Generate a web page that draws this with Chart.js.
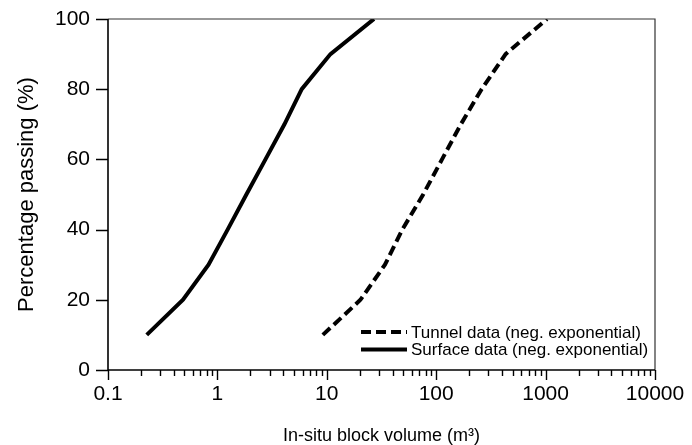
<!DOCTYPE html>
<html>
<head>
<meta charset="utf-8">
<script src="https://cdn.jsdelivr.net/npm/chart.js@4.4.1/dist/chart.umd.min.js"></script>
<style>
html,body{margin:0;padding:0;background:#fff;}
#wrap{position:relative;width:692px;height:445px;}
</style>
</head>
<body>
<div id="wrap"><canvas id="c" width="692" height="445"></canvas></div>
<script>
// ---- data ----
const percentPassing = [10, 20, 30, 40, 50, 60, 70, 80, 90, 100];
const tunnelVolume  = [9.2, 20.3, 34, 49, 76, 113, 168, 260, 431, 1030];
const surfaceVolume = [0.226, 0.485, 0.83, 1.24, 1.84, 2.75, 4.1, 5.9, 10.8, 27];
const seriesNames = ['Tunnel data (neg. exponential)', 'Surface data (neg. exponential)'];
const xTickValues = [0.1, 1, 10, 100, 1000, 10000];
const xTickLabels = ['0.1', '1', '10', '100', '1000', '10000'];
const yTickValues = [0, 20, 40, 60, 80, 100];
const yTickLabels = ['0', '20', '40', '60', '80', '100'];
const xTitle = 'In-situ block volume (m\u00B3)';
const yTitle = 'Percentage passing (%)';

const FONT = 'Liberation Sans, Arial, sans-serif';
const pts = (xs) => xs.map((x, i) => ({x: x, y: percentPassing[i]}));

const frameAndTicks = {
  id: 'frameAndTicks',
  afterDraw(chart) {
    const ctx = chart.ctx, a = chart.chartArea;
    const xs = chart.scales.x, ys = chart.scales.y;
    ctx.save();
    ctx.strokeStyle = '#333';
    ctx.lineWidth = 1.2;
    ctx.beginPath();
    ctx.moveTo(a.left, a.top); ctx.lineTo(a.right, a.top); ctx.lineTo(a.right, a.bottom);
    ctx.stroke();
    ctx.strokeStyle = '#000';
    ctx.lineWidth = 1.6;
    ctx.beginPath();
    ctx.moveTo(a.left, a.top); ctx.lineTo(a.left, a.bottom); ctx.lineTo(a.right, a.bottom);
    ctx.stroke();
    ctx.lineWidth = 1.4;
    ctx.beginPath();
    xs.ticks.forEach(t => {
      const px = Math.round(xs.getPixelForValue(t.value)) + 0.5;
      const e = Math.log10(t.value);
      const major = Math.abs(e - Math.round(e)) < 1e-6;
      ctx.moveTo(px, a.bottom);
      ctx.lineTo(px, a.bottom + (major ? 10 : 6));
    });
    ys.ticks.forEach(t => {
      const py = Math.round(ys.getPixelForValue(t.value)) + 0.5;
      ctx.moveTo(a.left - 12, py);
      ctx.lineTo(a.left, py);
    });
    ctx.stroke();
    const items = [
      {label: chart.data.datasets[0].label, dash: chart.data.datasets[0].borderDash, y: 332},
      {label: chart.data.datasets[1].label, dash: [], y: 349.5}
    ];
    ctx.font = '17px ' + FONT;
    ctx.fillStyle = '#000';
    ctx.textBaseline = 'middle';
    ctx.textAlign = 'left';
    items.forEach(it => {
      ctx.beginPath();
      ctx.lineWidth = 4;
      ctx.setLineDash(it.dash);
      ctx.moveTo(361, it.y); ctx.lineTo(407, it.y);
      ctx.stroke();
      ctx.setLineDash([]);
      ctx.fillText(it.label, 411, it.y + 1);
    });
    ctx.restore();
  }
};

new Chart(document.getElementById('c'), {
  type: 'line',
  data: {
    datasets: [
      {label: seriesNames[0], data: pts(tunnelVolume), borderColor: '#000', borderWidth: 4,
       borderDash: [10, 5], borderCapStyle: 'butt', pointRadius: 0, fill: false, tension: 0},
      {label: seriesNames[1], data: pts(surfaceVolume), borderColor: '#000', borderWidth: 4,
       borderCapStyle: 'butt', pointRadius: 0, fill: false, tension: 0}
    ]
  },
  options: {
    responsive: false,
    animation: false,
    devicePixelRatio: 1,
    layout: {padding: {left: 0, right: 37, top: 19, bottom: 0}},
    plugins: {legend: {display: false}, tooltip: {enabled: false}},
    scales: {
      x: {
        type: 'logarithmic', min: 0.1, max: 10000,
        afterBuildTicks(scale) {
          const t = [];
          for (let e = -1; e < 4; e++) for (let m = 1; m <= 9; m++) t.push({value: +(m * Math.pow(10, e)).toPrecision(6)});
          t.push({value: 10000});
          scale.ticks = t;
        },
        afterFit(scale) { scale.height = 75; scale.paddingLeft = 0; scale.paddingRight = 0; },
        grid: {display: false, drawTicks: false, tickLength: 0},
        border: {display: false},
        ticks: {
          autoSkip: false, maxRotation: 0, color: '#000', padding: 12,
          font: {family: FONT, size: 21},
          callback(v) {
            const i = xTickValues.findIndex(tv => Math.abs(tv - v) / tv < 1e-6);
            return i >= 0 ? xTickLabels[i] : '';
          }
        },
        title: {display: true, text: xTitle, color: '#000', font: {family: FONT, size: 18, lineHeight: 1}, padding: {top: 0, bottom: 0}}
      },
      y: {
        min: 0, max: 100,
        afterBuildTicks(scale) { scale.ticks = yTickValues.map(v => ({value: v})); },
        afterFit(scale) { scale.width = 108; scale.paddingTop = 0; scale.paddingBottom = 0; },
        grid: {display: false, drawTicks: false, tickLength: 0},
        border: {display: false},
        ticks: {
          color: '#000', padding: 18, font: {family: FONT, size: 21},
          callback(v) { const i = yTickValues.indexOf(v); return i >= 0 ? yTickLabels[i] : ''; }
        },
        title: {display: true, text: yTitle, color: '#000', font: {family: FONT, size: 22, lineHeight: 1.2}, padding: {top: 14, bottom: 0}}
      }
    }
  },
  plugins: [frameAndTicks]
});
</script>
</body>
</html>
